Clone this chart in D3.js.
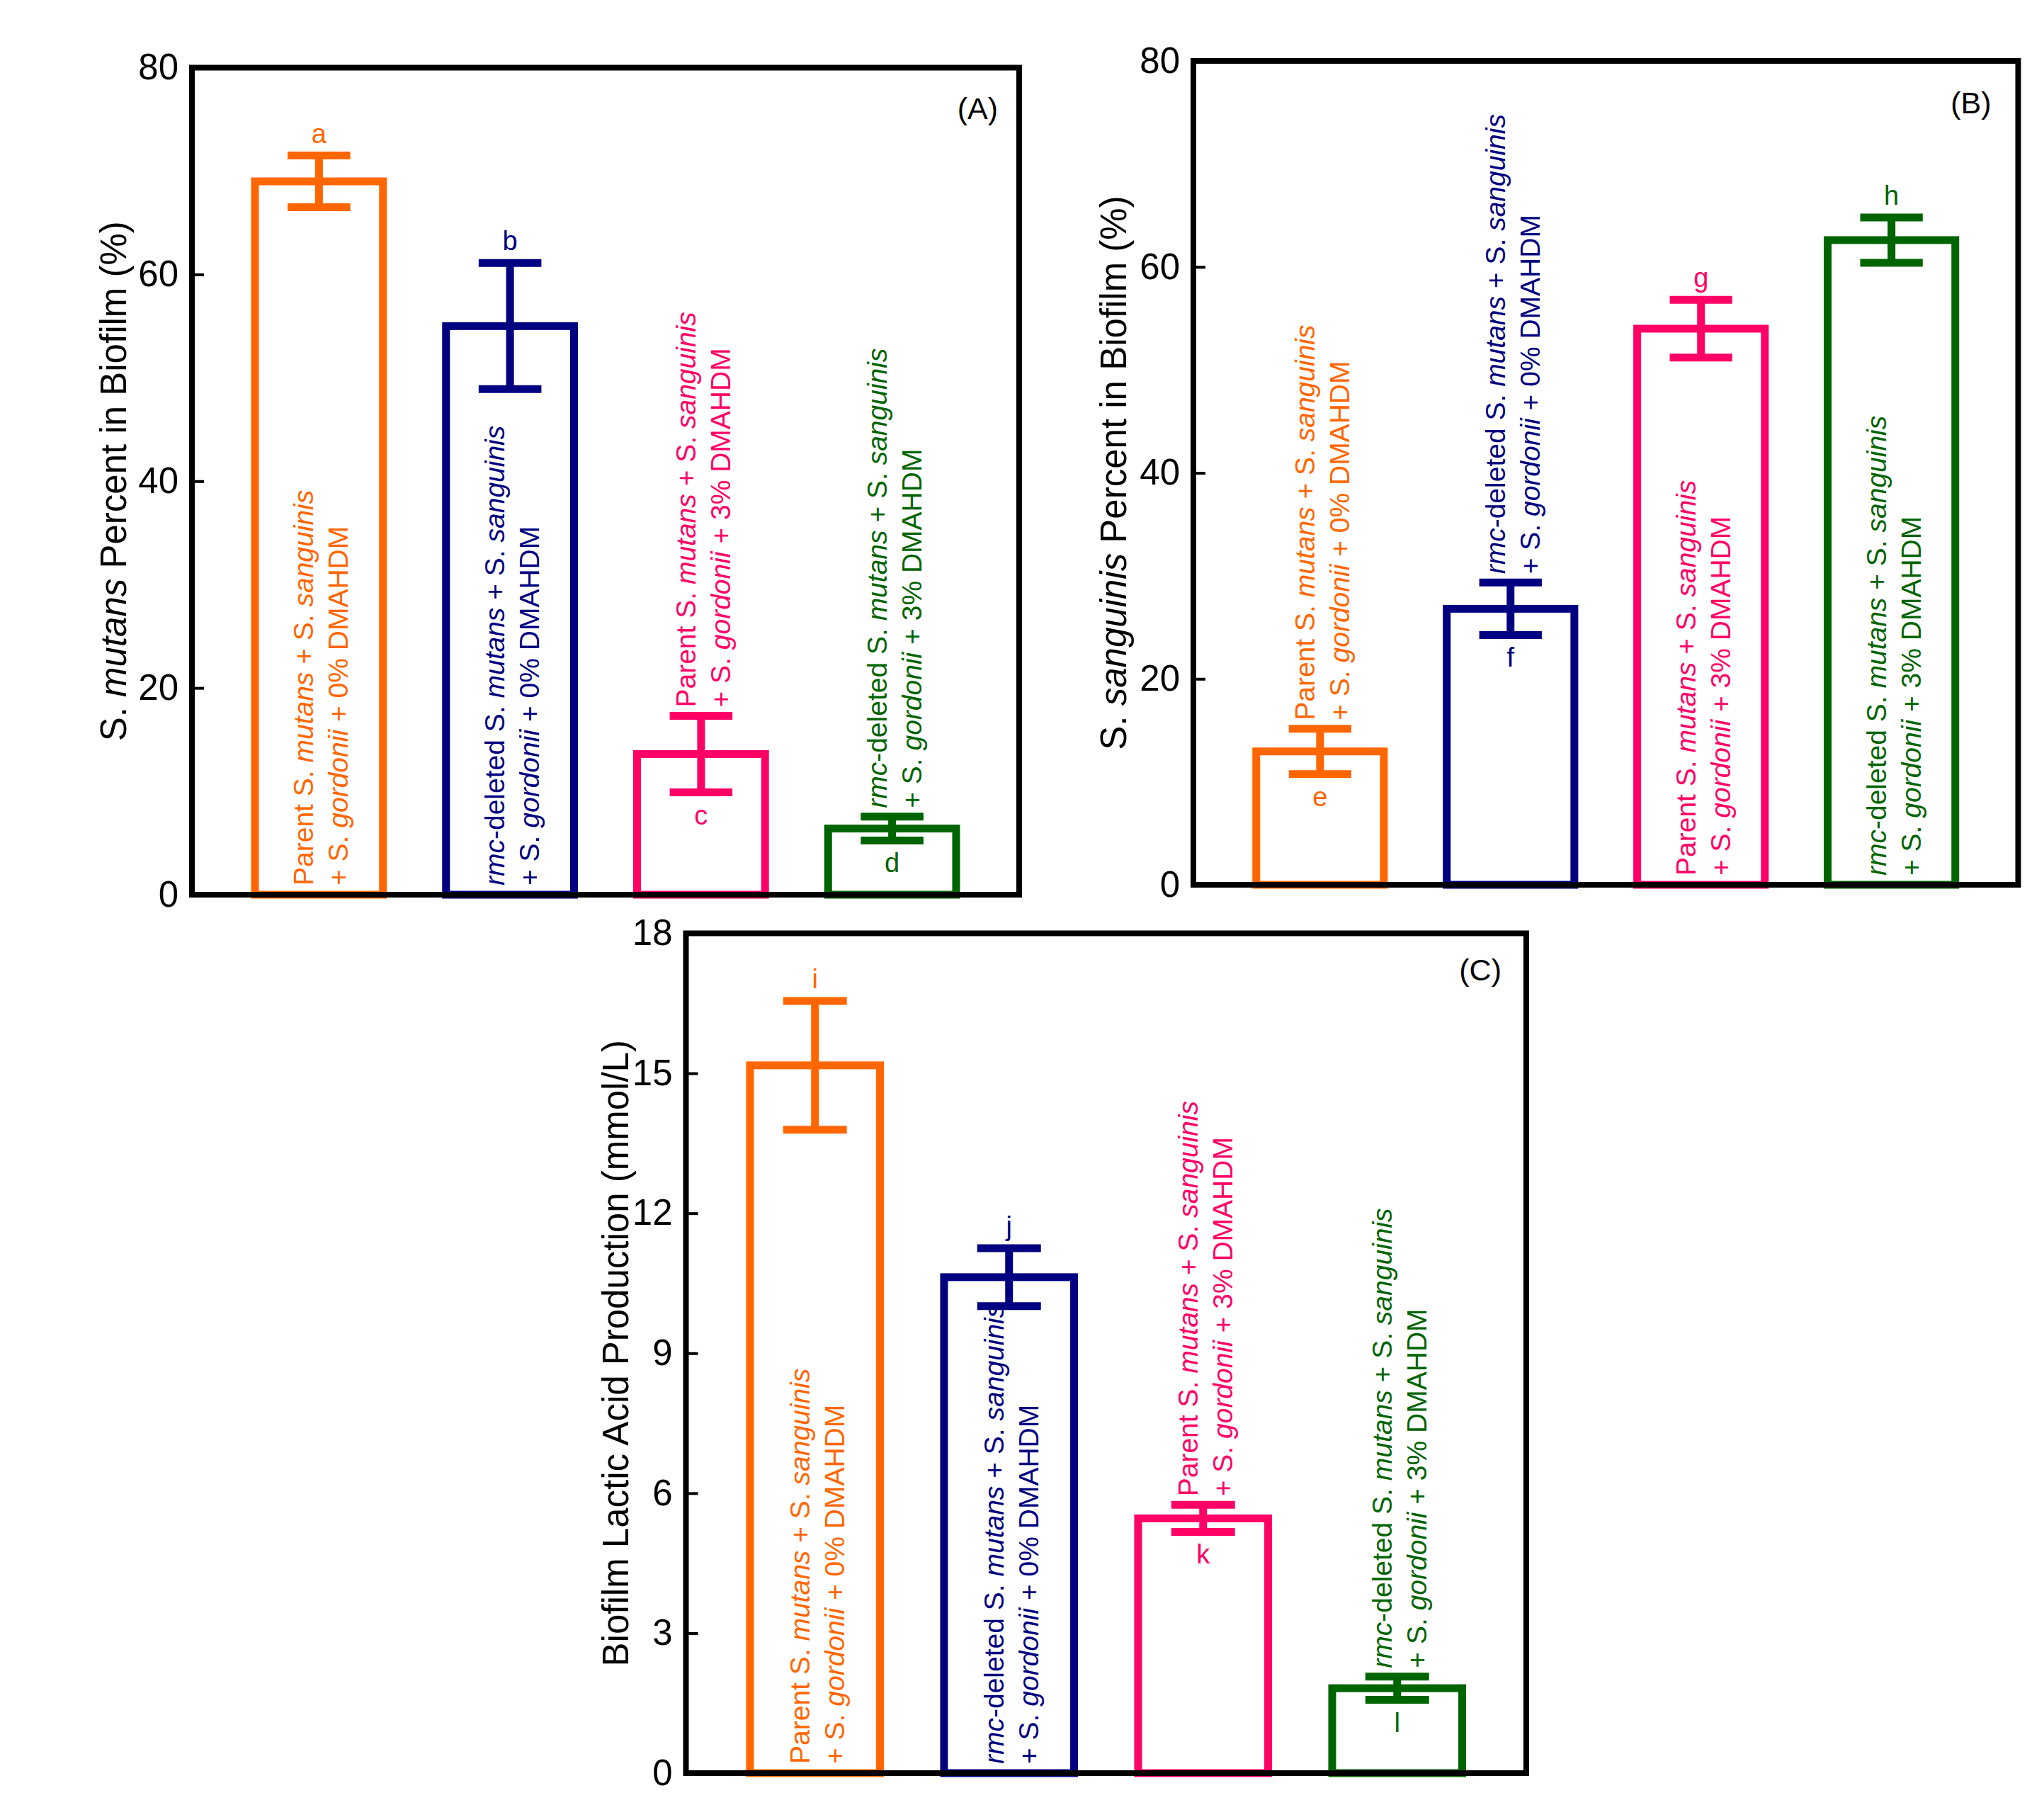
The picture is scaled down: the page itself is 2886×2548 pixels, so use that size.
<!DOCTYPE html>
<html>
<head>
<meta charset="utf-8">
<script src="https://cdn.jsdelivr.net/npm/d3@7"></script>
<style>
  html, body { margin: 0; padding: 0; background: #fff; }
  svg { display: block; }
  text { font-family: "Liberation Sans", Arial, Helvetica, sans-serif; }
</style>
</head>
<body>
<svg id="chart" width="2886" height="2548"></svg>
<script>
// ---------------- DATA ----------------
const groups = ["Parent 0%", "rmc-deleted 0%", "Parent 3%", "rmc-deleted 3%"];
const labelLine1 = [
  "Parent S. *mutans* + S. *sanguinis*",
  "*rmc*-deleted S. *mutans* + S. *sanguinis*",
  "Parent S. *mutans* + S. *sanguinis*",
  "*rmc*-deleted S. *mutans* + S. *sanguinis*"
];
const labelLine2 = [
  "+ S. *gordonii* + 0% DMAHDM",
  "+ S. *gordonii* + 0% DMAHDM",
  "+ S. *gordonii* + 3% DMAHDM",
  "+ S. *gordonii* + 3% DMAHDM"
];
const groupColors = ["#FF6600", "#000080", "#FF0066", "#006400"];

// Panel A: S. mutans percent
const mutansMean = [69.0, 55.0, 13.6, 6.4];
const mutansErr = [2.5, 6.1, 3.7, 1.15];
const mutansLetters = ["a", "b", "c", "d"];
const mutansTicks = [0, 20, 40, 60, 80];
const mutansTitle = "S. *mutans* Percent in Biofilm (%)";

// Panel B: S. sanguinis percent
const sanguinisMean = [12.95, 26.8, 54.0, 62.6];
const sanguinisErr = [2.2, 2.55, 2.8, 2.2];
const sanguinisLetters = ["e", "f", "g", "h"];
const sanguinisTicks = [0, 20, 40, 60, 80];
const sanguinisTitle = "S. *sanguinis* Percent in Biofilm (%)";

// Panel C: lactic acid
const lacticMean = [15.17, 10.63, 5.46, 1.82];
const lacticErr = [1.38, 0.62, 0.29, 0.25];
const lacticLetters = ["i", "j", "k", "l"];
const lacticTicks = [0, 3, 6, 9, 12, 15, 18];
const lacticTitle = "Biofilm Lactic Acid Production (mmol/L)";

const panelTags = ["(A)", "(B)", "(C)"];

// ---------------- LAYOUT ----------------
const panels = [
  { x0: 271, x1: 1439, yTop: 95.5, yBot: 1263, max: 80, mean: mutansMean, err: mutansErr,
    letters: mutansLetters, ticks: mutansTicks, title: mutansTitle, tag: panelTags[0],
    titleOff: 93, tagDx: 30, tagDy: 72 },
  { x0: 1685, x1: 2849.5, yTop: 86, yBot: 1249, max: 80, mean: sanguinisMean, err: sanguinisErr,
    letters: sanguinisLetters, ticks: sanguinisTicks, title: sanguinisTitle, tag: panelTags[1],
    titleOff: 95, tagDx: 38, tagDy: 74 },
  { x0: 968.5, x1: 2155, yTop: 1317.5, yBot: 2503, max: 18, mean: lacticMean, err: lacticErr,
    letters: lacticLetters, ticks: lacticTicks, title: lacticTitle, tag: panelTags[2],
    titleOff: 82, tagDx: 35, tagDy: 66 }
];

const svg = d3.select("#chart");

function addRich(textSel, str) {
  const parts = str.split("*");
  parts.forEach((p, i) => {
    if (!p) return;
    textSel.append("tspan").attr("font-style", i % 2 === 1 ? "italic" : "normal").text(p);
  });
}

const FRAME_W = 8, BAR_W = 11, ERR_W = 11;
const labelFs = 39, letterFs = 38, tickFs = 51, titleFs = 51;

panels.forEach(P => {
  const g = svg.append("g");
  const x = d3.scaleBand().domain(groups).range([P.x0, P.x1]).paddingInner(0.33).paddingOuter(0.33);
  const y = d3.scaleLinear().domain([0, P.max]).range([P.yBot, P.yTop]);
  const bw = x.bandwidth();
  const capHalf = bw * 0.245;

  // y axis with inward ticks
  const axis = d3.axisLeft(y).tickValues(P.ticks).tickSizeInner(-17).tickSizeOuter(0).tickPadding(19);
  const ax = g.append("g").attr("transform", `translate(${P.x0},0)`).call(axis);
  ax.select(".domain").remove();
  ax.selectAll(".tick line").attr("stroke", "#000").attr("stroke-width", 4);
  ax.selectAll(".tick text").attr("font-size", tickFs).attr("fill", "#000")
    .attr("font-family", '"Liberation Sans", Arial, sans-serif');

  // bars
  groups.forEach((grp, i) => {
    const c = groupColors[i];
    const bx = x(grp), cx = bx + bw / 2;
    const v = P.mean[i], e = P.err[i];
    g.append("rect").attr("x", bx).attr("y", y(v)).attr("width", bw).attr("height", y(0) - y(v))
      .attr("fill", "none").attr("stroke", c).attr("stroke-width", BAR_W);
    // error bar
    const yt = y(v + e), yb = y(v - e);
    g.append("line").attr("x1", cx).attr("x2", cx).attr("y1", yt).attr("y2", yb)
      .attr("stroke", c).attr("stroke-width", ERR_W);
    [yt, yb].forEach(yy => g.append("line").attr("x1", cx - capHalf).attr("x2", cx + capHalf)
      .attr("y1", yy).attr("y2", yy).attr("stroke", c).attr("stroke-width", ERR_W));

    // rotated label
    const lab = g.append("g");
    const t1 = lab.append("text").attr("x", 0).attr("y", -8).attr("font-size", labelFs).attr("fill", c);
    addRich(t1, labelLine1[i]);
    const t2 = lab.append("text").attr("x", 0).attr("y", 41).attr("font-size", labelFs).attr("fill", c);
    addRich(t2, labelLine2[i]);
    const len = Math.max(t1.node().getComputedTextLength(), t2.node().getComputedTextLength());
    const barPx = y(0) - y(v);
    const inside = len + 13 < barPx - 20;
    const startY = inside ? y(0) - 13 : yt - 12;
    lab.attr("transform", `translate(${cx},${startY}) rotate(-90)`);

    // significance letter
    const ly = inside ? yt - 18 : yb + 45;
    g.append("text").attr("x", cx).attr("y", ly).attr("text-anchor", "middle")
      .attr("font-size", letterFs).attr("fill", c).text(P.letters[i]);
  });

  // frame
  g.append("rect").attr("x", P.x0).attr("y", P.yTop).attr("width", P.x1 - P.x0).attr("height", P.yBot - P.yTop)
    .attr("fill", "none").attr("stroke", "#000").attr("stroke-width", FRAME_W);

  // axis title
  const tt = g.append("text").attr("font-size", titleFs).attr("fill", "#000").attr("text-anchor", "middle")
    .attr("transform", `translate(${P.x0 - P.titleOff},${(P.yTop + P.yBot) / 2}) rotate(-90)`);
  addRich(tt, P.title);

  // panel tag
  g.append("text").attr("x", P.x1 - P.tagDx).attr("y", P.yTop + P.tagDy).attr("text-anchor", "end")
    .attr("font-size", 43).attr("fill", "#000").text(P.tag);
});
</script>
</body>
</html>
